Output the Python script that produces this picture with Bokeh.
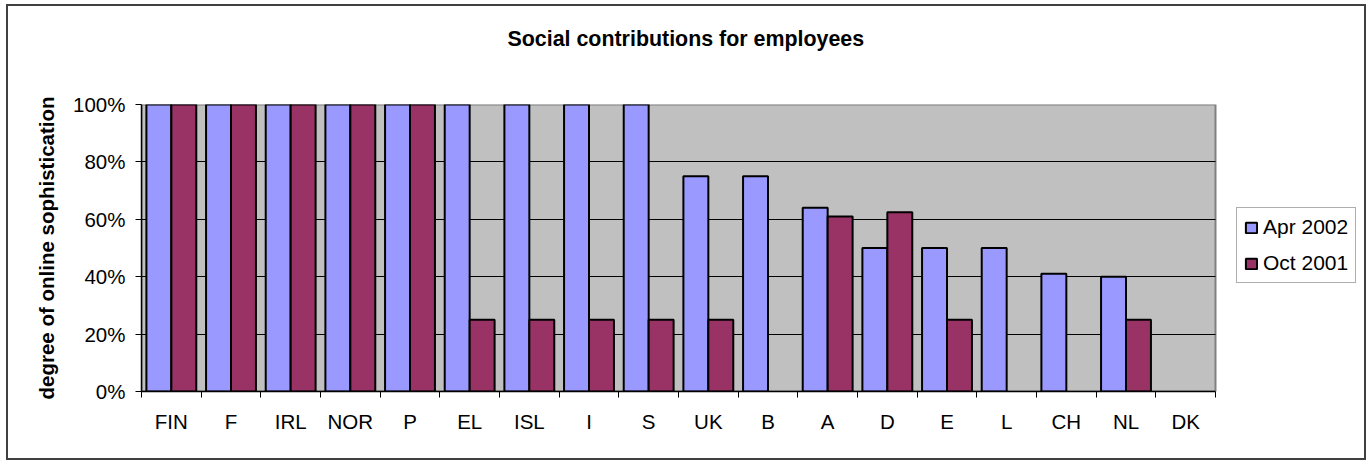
from bokeh.plotting import figure
from bokeh.models import (FixedTicker, NumeralTickFormatter, Range1d, Legend, LegendItem,
                          ColumnDataSource, Title)
from bokeh.embed import file_html
from bokeh.resources import INLINE

countries = ["FIN", "F", "IRL", "NOR", "P", "EL", "ISL", "I", "S", "UK",
             "B", "A", "D", "E", "L", "CH", "NL", "DK"]
nan = float("nan")
apr_2002 = [1.00, 1.00, 1.00, 1.00, 1.00, 1.00, 1.00, 1.00, 1.00, 0.75,
            0.75, 0.64, 0.50, 0.50, 0.50, 0.41, 0.40, nan]
oct_2001 = [1.00, 1.00, 1.00, 1.00, 1.00, 0.25, 0.25, 0.25, 0.25, 0.25,
            nan, 0.61, 0.625, 0.25, nan, nan, 0.25, nan]
series_names = ["Apr 2002", "Oct 2001"]
y_ticks = [0, 0.2, 0.4, 0.6, 0.8, 1.0]
chart_title = "Social contributions for employees"

FONT = "Liberation Sans"
FS = "20.5px"

n = len(countries)
centers = [i + 0.5 for i in range(n)]
bw = 0.418
src = ColumnDataSource(dict(
    xa=[c - bw / 2 for c in centers],
    xo=[c + bw / 2 for c in centers],
    apr=apr_2002, oct=oct_2001))

W, H = 1356, 452
BL, BR, BT, BB = 133, 2, 98, 67
px_per_unit = 1074 / n
x_max = (W - BL - BR) / px_per_unit

p = figure(width=W, height=H, output_backend="svg", toolbar_location=None,
           x_range=Range1d(0, x_max), y_range=Range1d(0, 1),
           min_border_left=BL, min_border_right=BR, min_border_top=BT,
           min_border_bottom=BB)
p.margin = (6, 0, 0, 8)
p.styles = {"outline": "2px solid #404040"}

p.background_fill_color = "white"
p.outline_line_color = None

# plot area
area = p.quad(left=[0], right=[n], bottom=[0], top=[1], fill_color="#C0C0C0",
              line_color="#808080", line_width=2)
area.level = "image"

r1 = p.vbar(x="xa", top="apr", bottom=0, width=bw, source=src,
            fill_color="#9999FF", line_color="black", line_width=2)
r2 = p.vbar(x="xo", top="oct", bottom=0, width=bw, source=src,
            fill_color="#993366", line_color="black", line_width=2)

# grid
p.xgrid.visible = False
p.ygrid.ticker = FixedTicker(ticks=y_ticks[1:-1])
p.ygrid.cross_bounds = (0, n)
p.ygrid.grid_line_color = "black"
p.ygrid.grid_line_width = 1

# y axis
p.yaxis.ticker = FixedTicker(ticks=y_ticks)
p.yaxis.formatter = NumeralTickFormatter(format="0%")
p.yaxis.major_label_text_font = FONT
p.yaxis.major_label_text_font_size = FS
p.yaxis.major_label_text_color = "black"
p.yaxis.major_tick_out = 6
p.yaxis.major_tick_in = 0
p.yaxis.minor_tick_line_color = None
p.yaxis.axis_line_color = "black"
p.yaxis.axis_line_width = 1.5
p.yaxis.major_label_standoff = 10
p.yaxis.axis_label = "degree of online sophistication"
p.yaxis.axis_label_text_font = FONT
p.yaxis.axis_label_text_font_size = FS
p.yaxis.axis_label_text_font_style = "bold"
p.yaxis.axis_label_text_color = "black"
p.yaxis.axis_label_standoff = 12

# x axis: labels at centers, ticks at boundaries
p.xaxis.ticker = FixedTicker(ticks=centers, minor_ticks=list(range(n + 1)))
p.xaxis.major_label_overrides = {c: name for c, name in zip(centers, countries)}
p.xaxis.bounds = (0, n)
p.xaxis.major_tick_out = 0
p.xaxis.major_tick_in = 0
p.xaxis.minor_tick_out = 6
p.xaxis.minor_tick_in = 0
p.xaxis.minor_tick_line_color = "black"
p.xaxis.major_label_text_font = FONT
p.xaxis.major_label_text_font_size = FS
p.xaxis.major_label_text_color = "black"
p.xaxis.major_label_standoff = 12
p.xaxis.axis_line_color = "black"
p.xaxis.axis_line_width = 1.5

# real title (outer) and a spacer next to the frame
p.title.text = chart_title
p.title.align = "left"
p.title.offset = 366
p.title.text_font = FONT
p.title.text_font_size = "21.4px"
p.title.text_font_style = "bold"
p.title.text_color = "black"
p.title.standoff = 0
p.add_layout(Title(text=" ", text_font_size="2px", standoff=50), "above")

legend = Legend(items=[LegendItem(label=series_names[0], renderers=[r1]),
                       LegendItem(label=series_names[1], renderers=[r2])],
                location=(1095, 108), margin=0, padding=7, spacing=12,
                label_height=22, glyph_width=14, glyph_height=13,
                label_standoff=5, label_text_font=FONT, label_text_font_size="21px",
                label_text_color="black", border_line_color="#606060",
                border_line_width=1, background_fill_color="white")
p.add_layout(legend)

open("out.html", "w").write(file_html(p, INLINE))
